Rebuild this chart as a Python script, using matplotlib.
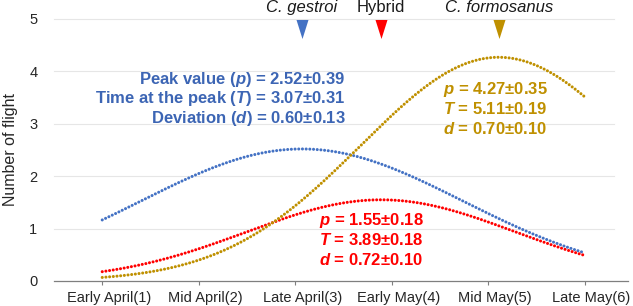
import numpy as np
import matplotlib
matplotlib.use("Agg")
import matplotlib.pyplot as plt
import matplotlib.transforms as mtransforms

plt.rcParams['font.family'] = ['Liberation Sans', 'DejaVu Sans']
plt.rcParams['mathtext.fontset'] = 'custom'
plt.rcParams['mathtext.rm'] = 'Liberation Sans:bold'
plt.rcParams['mathtext.bf'] = 'Liberation Sans:bold'
plt.rcParams['mathtext.it'] = 'Liberation Sans:bold:italic'
plt.rcParams['mathtext.bfit'] = 'Liberation Sans:bold:italic'

# Data
x_labels = ["Early April(1)", "Mid April(2)", "Late April(3)",
            "Early May(4)", "Mid May(5)", "Late May(6)"]
species = ["C. gestroi", "Hybrid", "C. formosanus"]
peak_p = [2.52, 1.55, 4.27]
peak_p_err = [0.39, 0.18, 0.35]
peak_T = [3.07, 3.89, 5.11]
peak_T_err = [0.31, 0.18, 0.19]
dev_d = [0.60, 0.72, 0.70]
dev_d_err = [0.13, 0.10, 0.10]
colors = ["#4472C4", "#FF0000", "#BF9000"]
text_colors = ["#3C65B4", "#FF0000", "#BF9000"]

fig = plt.figure(figsize=(6.33, 3.06), dpi=100)
ax = fig.add_axes([54/633, 25/306, 574/633, 262/306])
ax.set_xlim(0.5, 6.45)
ax.set_ylim(0, 5)

xs = np.linspace(1, 6, 400)
for p, T, d, c in zip(peak_p, peak_T, dev_d, colors):
    ys = p * np.exp(-0.5 * (d * (xs - T)) ** 2)
    ax.plot(xs, ys, color=c, lw=2.2, linestyle=(0, (0.01, 1.2)),
            dash_capstyle='round', zorder=3)

# grid
for yv in range(1, 6):
    ax.plot([0.5, 6.31], [yv, yv], color="#E6E6E6", lw=0.8, zorder=1, clip_on=False)

for s in ['top', 'right', 'left']:
    ax.spines[s].set_visible(False)
ax.spines['bottom'].set_color('#7F7F7F')
ax.spines['bottom'].set_linewidth(0.9)

ax.set_xticks(range(1, 7))
ax.set_xticklabels(x_labels, fontsize=10.5, color='#262626')
ax.tick_params(axis='x', length=3, color='#7F7F7F', pad=4)
shift = mtransforms.ScaledTranslation(7/100, 0, fig.dpi_scale_trans)
for lab in ax.get_xticklabels():
    lab.set_transform(lab.get_transform() + shift)
ax.set_yticks(range(0, 6))
ax.set_yticklabels([str(i) for i in range(6)], fontsize=10.5, color='#262626')
ax.tick_params(axis='y', length=0, pad=12)
ax.set_ylabel("Number of flight", fontsize=11.5, color='#262626', labelpad=8)

# triangles and species labels
tri = [(-0.63, 1), (0.63, 1), (0, -1)]
for i, (T, c, name) in enumerate(zip(peak_T, colors, species)):
    ax.plot([T], [4.8], marker=tri, markersize=13.7, color=c, markeredgewidth=0,
            clip_on=False, zorder=4)
    ax.text(T, 5.21, name, ha='center', va='center', fontsize=12,
            style='italic' if i != 1 else 'normal', color='#1a1a1a', clip_on=False)

# blue annotation
tb = text_colors[0]
blue_lines = [
    "Peak value ($\\mathit{p}$) = %.2f\u00b1%.2f" % (peak_p[0], peak_p_err[0]),
    "Time at the peak ($\\mathit{T}$) = %.2f\u00b1%.2f" % (peak_T[0], peak_T_err[0]),
    "Deviation ($\\mathit{d}$) = %.2f\u00b1%.2f" % (dev_d[0], dev_d_err[0]),
]
for k, s in enumerate(blue_lines):
    ax.text(3.52, 3.84 - k * 0.365, s, ha='right', va='center', fontsize=12,
            fontweight='bold', color=tb)

def short_lines(i):
    return [
        "$\\mathit{p}$ = %.2f\u00b1%.2f" % (peak_p[i], peak_p_err[i]),
        "$\\mathit{T}$ = %.2f\u00b1%.2f" % (peak_T[i], peak_T_err[i]),
        "$\\mathit{d}$ = %.2f\u00b1%.2f" % (dev_d[i], dev_d_err[i]),
    ]

for k, s in enumerate(short_lines(2)):
    ax.text(4.53, 3.66 - k * 0.38, s, ha='left', va='center', fontsize=12,
            fontweight='bold', color=text_colors[2])
for k, s in enumerate(short_lines(1)):
    ax.text(3.25, 1.15 - k * 0.375, s, ha='left', va='center', fontsize=12,
            fontweight='bold', color=text_colors[1])

fig.savefig("out.png", dpi=100)
